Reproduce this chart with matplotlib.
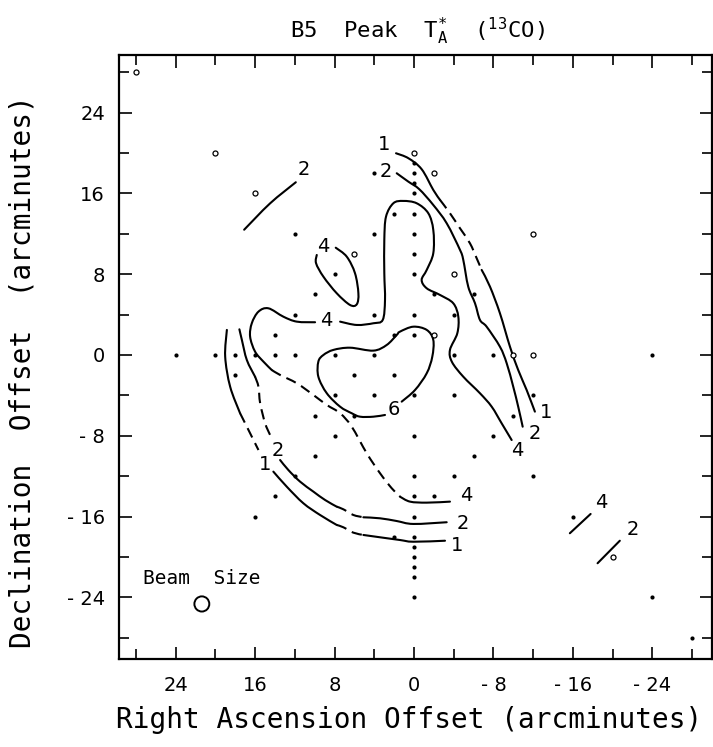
import matplotlib
matplotlib.use("Agg")
import matplotlib.pyplot as plt
from matplotlib.patches import Circle, PathPatch
from matplotlib.path import Path
import numpy as np

plt.rcParams['font.family'] = ['DejaVu Sans']
plt.rcParams['mathtext.fontset'] = 'custom'
plt.rcParams['mathtext.rm'] = 'DejaVu Sans Mono'
plt.rcParams['mathtext.default'] = 'rm'

# observed positions (RA offset, Dec offset), arcmin
pts_filled = [
    (12, 12), (4, 18), (4, 12), (2, 14),
    (0, 19), (0, 18), (0, 17), (0, 16), (0, 14), (0, 12), (0, 10), (0, 8), (0, 4), (0, 2),
    (8, 8), (10, 6), (-2, 6), (-6, 6), (12, 4), (4, 4), (-4, 4), (14, 2), (2, 2),
    (24, 0), (20, 0), (18, 0), (16, 0), (14, 0), (12, 0), (8, 0), (4, 0), (-4, 0), (-8, 0), (-24, 0),
    (18, -2), (6, -2), (2, -2),
    (8, -4), (4, -4), (0, -4), (-4, -4), (-12, -4),
    (10, -6), (6, -6), (-10, -6),
    (8, -8), (0, -8), (-8, -8), (10, -10), (-6, -10),
    (12, -12), (0, -12), (-4, -12), (-12, -12),
    (14, -14), (0, -14), (-2, -14), (16, -16), (0, -16), (-16, -16),
    (2, -18), (0, -18), (0, -19), (0, -20), (0, -21), (0, -22), (0, -24),
    (-24, -24), (-28, -28),
]
pts_open = [(28, 28), (20, 20), (16, 16), (0, 20), (-2, 18), (-12, 12), (6, 10),
            (-4, 8), (-2, 2), (-10, 0), (-12, 0), (-20, -20)]

# contour traces (RA, Dec)
c2_nw = [(17.1, 12.4), (14.5, 15.0), (11.9, 17.1)]
c4_loop = [(7.88, 10.62), (6.77, 9.73), (5.94, 8.09), (5.60, 6.11), (5.76, 5.02), (6.44, 4.95),
           (7.78, 6.11), (9.12, 7.75), (9.86, 9.08), (9.79, 9.90)]
c4_right = [(-9.83, -8.42), (-8.82, -6.76), (-7.82, -5.12), (-6.64, -3.79), (-4.96, -2.15),
            (-3.82, -0.69), (-3.62, 0.50), (-4.36, 2.15), (-4.46, 3.79), (-3.95, 5.12),
            (-2.62, 5.94), (-1.28, 6.60), (-0.77, 7.43), (-1.28, 8.42), (-1.94, 10.07),
            (-1.94, 12.38), (-1.44, 14.03), (-0.27, 15.02), (1.08, 15.25), (2.08, 15.02),
            (2.82, 13.69), (2.99, 11.39), (2.99, 8.09), (2.92, 5.45), (3.15, 3.47),
            (4.09, 3.14), (5.76, 2.97), (7.44, 3.30)]
c4_left = [(9.96, 3.24), (11.80, 3.30), (13.15, 3.79), (14.66, 4.62), (15.66, 4.29),
           (16.33, 3.14), (16.50, 1.81), (16.0, 0.33), (15.16, -0.66), (14.32, -1.49)]
c4_dash = [(14.32, -1.49), (13.48, -1.98), (11.80, -2.80), (10.13, -3.96), (8.78, -4.95),
           (7.44, -5.77), (6.27, -7.10), (4.76, -9.73), (3.42, -11.71), (2.24, -13.20),
           (1.41, -14.03)]
c4_south = [(1.41, -14.03), (0.40, -14.52), (-1.28, -14.62), (-3.62, -14.52)]
c6 = [(1.24, -4.62), (-0.10, -3.47), (-1.28, -1.81), (-1.84, -0.17), (-1.94, 1.49),
      (-1.28, 2.48), (0.07, 2.80), (1.41, 2.31), (1.74, 1.98), (2.75, 0.99), (4.09, 0.43),
      (6.44, 0.72), (8.12, 0.50), (9.12, 0.0), (9.63, -0.66), (9.63, -2.15), (8.78, -3.79),
      (7.44, -5.12), (6.27, -5.77), (5.43, -6.11), (4.09, -6.11), (2.92, -5.94)]
c2_east = [(1.74, 17.99), (0.57, 17.16), (-0.53, 16.41), (-1.94, 14.85), (-3.29, 13.04),
           (-4.63, 10.40), (-4.96, 9.41), (-5.46, 6.76), (-6.14, 5.12), (-6.64, 3.47),
           (-7.31, 2.80), (-8.65, 0.82), (-9.33, -0.82), (-9.99, -3.14), (-10.49, -5.12),
           (-10.94, -7.10)]
c1_east_a = [(1.81, 19.97), (0.57, 19.48), (-0.77, 18.39), (-1.94, 16.34), (-2.62, 15.35)]
c1_east_dash = [(-2.62, 15.35), (-3.62, 14.03), (-4.63, 12.54), (-5.63, 11.06),
                (-6.31, 9.57), (-6.81, 8.42)]
c1_east_b = [(-6.81, 8.42), (-7.65, 6.76), (-8.65, 4.13), (-9.66, 0.82), (-10.49, -1.49),
             (-11.34, -3.47), (-12.17, -5.61)]
c2_west_a = [(17.58, 2.54), (17.33, 1.49), (16.83, -0.50), (16.0, -2.15)]
c2_west_dash = [(16.0, -2.15), (15.66, -3.14), (15.49, -4.78), (14.99, -6.76), (14.49, -7.92)]
c2_west_b = [(13.48, -10.40), (12.65, -11.39), (11.47, -12.54), (10.13, -13.53),
             (8.95, -14.36), (7.78, -15.02)]
c2_west_gap = [(7.78, -15.02), (7.11, -15.28), (6.11, -15.84), (5.10, -16.07)]
c2_west_c = [(5.10, -16.07), (3.42, -16.17), (1.74, -16.44), (0.07, -16.73), (-3.29, -16.56)]
c1_west_a = [(18.84, 2.48), (19.01, -0.17), (18.51, -3.14), (17.51, -5.77)]
c1_west_dash = [(17.51, -5.77), (16.83, -7.10), (15.66, -9.41)]
c1_west_b = [(14.16, -11.55), (12.81, -13.04), (11.14, -14.68), (9.46, -15.84), (7.78, -16.83)]
c1_west_gap = [(7.78, -16.83), (7.11, -17.06), (6.11, -17.59), (5.10, -17.82)]
c1_west_c = [(5.10, -17.82), (3.42, -18.05), (1.41, -18.32), (0.07, -18.49), (-3.12, -18.39)]
c4_se = [(-15.69, -17.65), (-17.78, -15.74)]
c2_se = [(-18.48, -20.62), (-20.72, -18.39)]

solid_segs = [c2_nw, c4_loop, c4_right, c4_left, c4_south, c6, c2_east, c1_east_a, c1_east_b,
              c2_west_a, c2_west_b, c2_west_c, c1_west_a, c1_west_b, c1_west_c, c4_se, c2_se]
dash_segs = [c4_dash, c1_east_dash, c2_west_dash, c2_west_gap, c1_west_dash, c1_west_gap]

# contour level labels
lev_labels = [("2", 11.1, 18.4), ("4", 9.1, 10.7), ("4", 8.8, 3.4), ("4", -5.3, -13.9),
              ("4", -10.4, -9.5), ("6", 2.0, -5.4), ("1", 3.0, 20.8), ("2", 2.8, 18.2),
              ("2", -12.2, -7.8), ("1", -13.3, -5.7), ("2", 13.75, -9.5), ("2", -4.9, -16.7),
              ("1", 15.0, -10.8), ("1", -4.3, -18.9), ("4", -18.8, -14.6), ("2", -22.0, -17.3)]

xt = [24, 16, 8, 0, -8, -16, -24]
xt_lab = ["24", "16", "8", "0", "- 8", "- 16", "- 24"]


def smooth_path(seg):
    # catmull-rom through the traced points, as cubic bezier pieces
    p = np.array(seg, dtype=float)
    if len(p) < 3:
        return Path(p, [Path.MOVETO] + [Path.LINETO] * (len(p) - 1))
    ext = np.vstack([p[0], p, p[-1]])
    verts = [p[0]]
    codes = [Path.MOVETO]
    for i in range(1, len(ext) - 2):
        c1 = ext[i] + (ext[i + 1] - ext[i - 1]) / 6.0
        c2 = ext[i + 1] - (ext[i + 2] - ext[i]) / 6.0
        verts += [c1, c2, ext[i + 1]]
        codes += [Path.CURVE4] * 3
    return Path(verts, codes)


fig = plt.figure(figsize=(7.13, 7.47), dpi=100)
ax = fig.add_axes([0.1669, 0.1178, 0.8317, 0.8086])

for seg in solid_segs:
    ax.add_patch(PathPatch(smooth_path(seg), fill=False, lw=1.5, ec='black',
                           capstyle='round'))
for seg in dash_segs:
    ax.add_patch(PathPatch(smooth_path(seg), fill=False, lw=1.5, ec='black',
                           linestyle=(0, (5, 3))))

pf = np.array(pts_filled)
po = np.array(pts_open)
ax.plot(pf[:, 0], pf[:, 1], 'o', color='black', ms=3.0, mew=0)
ax.plot(po[:, 0], po[:, 1], 'o', mfc='white', mec='black', ms=3.6, mew=0.9)

for t, x, y in lev_labels:
    ax.text(x, y, t, fontsize=14, ha='center', va='center')

ax.text(27.3, -22.1, "Beam  Size", family='DejaVu Sans Mono', fontsize=14,
        ha='left', va='center')
ax.add_patch(Circle((21.36, -24.65), 0.75, fill=False, lw=1.4, color='black'))

ax.set_xlim(29.7, -30.0)
ax.set_ylim(-30.1, 29.7)
ax.set_xticks(xt)
ax.set_xticklabels(xt_lab)
ax.set_yticks(xt)
ax.set_yticklabels(xt_lab)
ax.set_xticks(np.arange(-28, 29, 4), minor=True)
ax.set_yticks(np.arange(-28, 29, 4), minor=True)
ax.tick_params(which='both', direction='in', top=True, right=True, width=1.2, labelsize=14)
ax.tick_params(which='major', length=9)
ax.tick_params(which='minor', length=7)
ax.tick_params(axis='x', pad=12)
ax.tick_params(axis='y', pad=10)
for s in ax.spines.values():
    s.set_linewidth(1.6)

fig.text(0.586, 0.958, "B5  Peak  T$_A^{*}$  ($^{13}$CO)", family='DejaVu Sans Mono',
         fontsize=16, ha='center', va='center')
fig.text(0.574, 0.036, "Right Ascension Offset (arcminutes)", family='DejaVu Sans Mono',
         fontsize=20, ha='center', va='center')
fig.text(0.031, 0.502, "Declination  Offset  (arcminutes)", family='DejaVu Sans Mono',
         fontsize=20, ha='center', va='center', rotation=90)

fig.savefig("out.png", dpi=100)
